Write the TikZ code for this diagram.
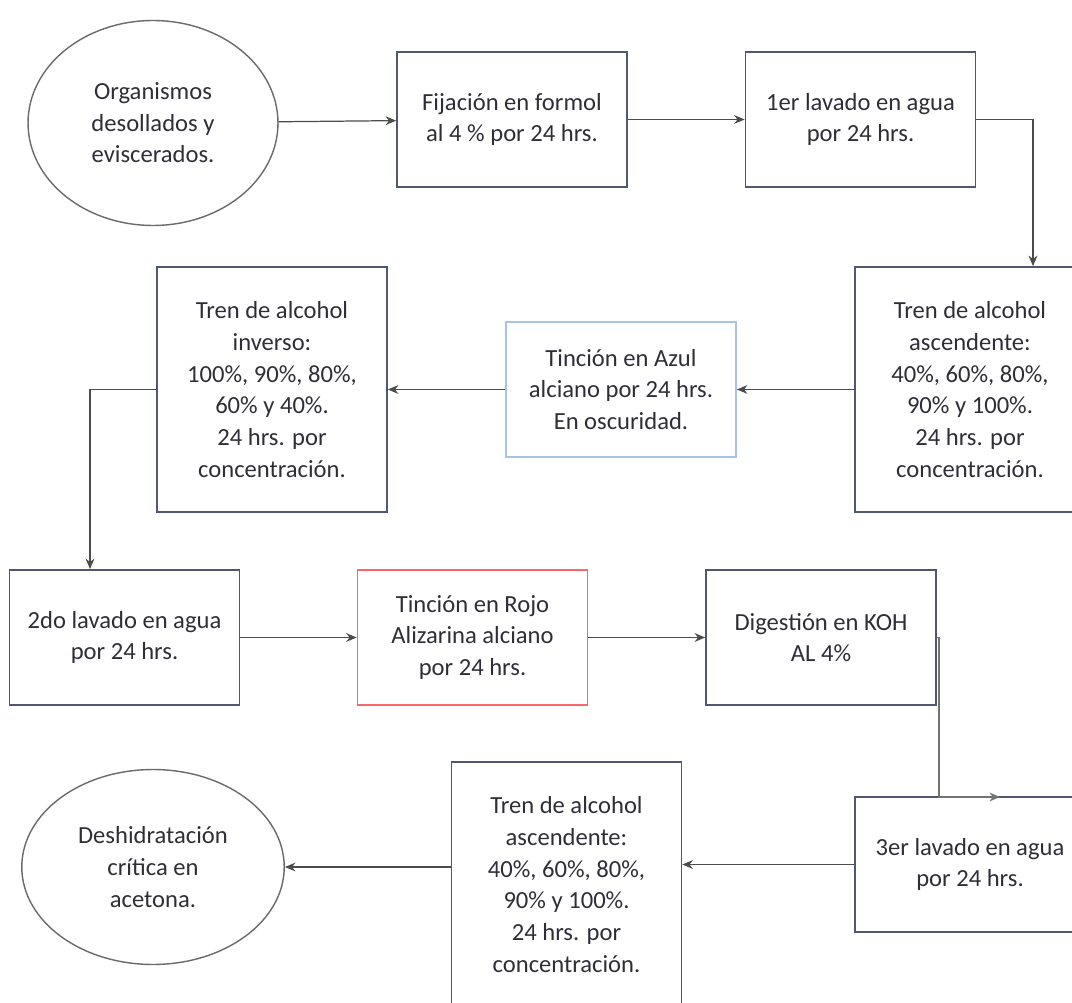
\documentclass[tikz,border=0pt]{standalone}
\usepackage{fontspec}
\setmainfont{Carlito}
\usetikzlibrary{arrows.meta,shapes.geometric}
\definecolor{boxline}{HTML}{4F5870}
\definecolor{azulline}{HTML}{A8C2EA}
\definecolor{rojoline}{HTML}{F46A6A}
\definecolor{ovalline}{HTML}{6A6A6A}
\definecolor{txt}{HTML}{2E2E38}
\begin{document}
\begin{tikzpicture}[
  x=0.02cm, y=-0.02cm,
  every node/.style={text=txt, font=\fontsize{14}{18}\selectfont, align=center},
  paso/.style={draw=boxline, line width=1pt, minimum width=4.6cm, minimum height=2.7cm, inner sep=2pt},
  pasoalto/.style={paso, minimum height=4.9cm},
  oval/.style={ellipse, draw=ovalline, line width=0.8pt, inner sep=0pt},
  flecha/.style={draw=black!70, line width=0.7pt, -{Stealth[length=6pt,width=5pt]}}]

  \useasboundingbox (0,0) rectangle (1072,1003);

  \node[oval, minimum width=5.0cm, minimum height=4.1cm] (org) at (153,123) {Organismos\\desollados y\\eviscerados.};
  \node[paso] (fij) at (512,119.5) {Fijación en formol\\al 4 \% por 24 hrs.};
  \node[paso] (lav1) at (860.5,119.5) {1er lavado en agua\\por 24 hrs.};
  \node[pasoalto] (asc1) at (970,389.5) {Tren de alcohol\\ascendente:\\40\%, 60\%, 80\%,\\90\% y 100\%.\\24 hrs. por\\concentración.};
  \node[paso, draw=azulline] (azul) at (621,389.5) {Tinción en Azul\\alciano por 24 hrs.\\En oscuridad.};
  \node[pasoalto] (inv) at (272,389.5) {Tren de alcohol\\inverso:\\100\%, 90\%, 80\%,\\60\% y 40\%.\\24 hrs. por\\concentración.};
  \node[paso] (lav2) at (124.5,637.5) {2do lavado en agua\\por 24 hrs.};
  \node[paso, draw=rojoline] (rojo) at (472.5,637.5) {Tinción en Rojo\\Alizarina alciano\\por 24 hrs.};
  \node[paso] (dig) at (821,637.5) {Digestión en KOH\\AL 4\%};
  \node[paso] (lav3) at (970,864.5) {3er lavado en agua\\por 24 hrs.};
  \node[pasoalto] (asc2) at (566.5,884.5) {Tren de alcohol\\ascendente:\\40\%, 60\%, 80\%,\\90\% y 100\%.\\24 hrs. por\\concentración.};
  \node[oval, minimum width=5.25cm, minimum height=3.9cm] (ace) at (153,867) {Deshidratación\\crítica en\\acetona.};

  \coordinate (llega) at (1000,797);

  \draw[flecha] (org) -- (fij);
  \draw[flecha] (fij) -- (lav1);
  \draw[flecha] (lav1.east) -| ([xshift=1.26cm]asc1.north);
  \draw[flecha] (asc1) -- (azul);
  \draw[flecha] (azul) -- (inv);
  \draw[flecha] (inv.west) -| ([xshift=-0.69cm]lav2.north);
  \draw[flecha] (lav2) -- (rojo);
  \draw[flecha] (rojo) -- (dig);
  \draw[flecha, line width=1.1pt, draw=black!55] (dig.east) -- ++(2,0) |- (llega);
  \draw[flecha] (lav3.west) -- (lav3.west -| asc2.east);
  \draw[flecha] (asc2.west |- ace.east) -- (ace.east);
\end{tikzpicture}
\end{document}
